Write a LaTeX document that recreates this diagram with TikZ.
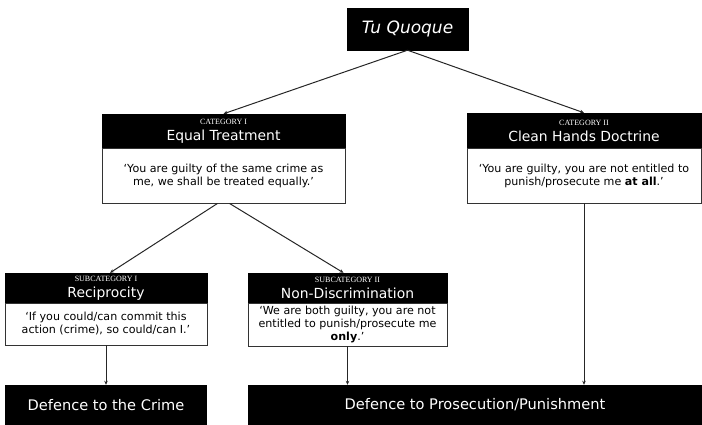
\documentclass[tikz,border=0pt]{standalone}
\usepackage{fontspec}
\setmainfont{DejaVu Sans}
\newfontfamily\capfont{Liberation Serif}
\usetikzlibrary{arrows.meta}
\newcommand{\catlbl}[1]{{\capfont\fontsize{8}{8}\selectfont #1}}

\begin{document}
\begin{tikzpicture}[x=1pt,y=1pt,
    hdr/.style={draw=black,fill=black,text=white,inner sep=0pt,align=center,
      font=\fontsize{13.9}{16}\selectfont},
    bdy/.style={draw=black!80,line width=0.9pt,fill=white,inner sep=0pt,align=center,
      font=\fontsize{11.1}{13}\selectfont},
    fin/.style={fill=black,text=white,inner sep=0pt,minimum height=40pt,
      font=\fontsize{14.6}{16}\selectfont},
    arr/.style={-{Stealth[length=4pt,width=3.5pt]},line width=1pt,draw=black!85}]
\useasboundingbox (0,0) rectangle (702,425);
% top
\node[hdr,minimum width=121pt,minimum height=42pt,
  font=\fontsize{17}{19}\selectfont\itshape] (tq) at (407.5,396) {Tu Quoque};
% categories
\node[hdr,minimum width=243pt,minimum height=34pt] (et) at (223.5,294)
  {\catlbl{CATEGORY I}\\Equal Treatment};
\node[bdy,minimum width=243pt,minimum height=55pt] (etb) at (223.5,249.5)
  {‘You are guilty of the same crime as\\me, we shall be treated equally.’};
\node[hdr,minimum width=234pt,minimum height=35pt] (ch) at (584,294.5)
  {\catlbl{CATEGORY II}\\Clean Hands Doctrine};
\node[bdy,minimum width=234pt,minimum height=55pt] (chb) at (584,249.5)
  {‘You are guilty, you are not entitled to\\punish/prosecute me \textbf{at all}.’};
% subcategories
\node[hdr,minimum width=202pt,minimum height=30pt] (rec) at (106,137)
  {\catlbl{SUBCATEGORY I}\\Reciprocity};
\node[bdy,minimum width=202pt,minimum height=42pt] (recb) at (106,101)
  {‘If you could/can commit this\\action (crime), so could/can I.’};
\node[hdr,minimum width=199pt,minimum height=30pt] (nd) at (347.5,137)
  {\catlbl{SUBCATEGORY II}\\Non-Discrimination};
\node[bdy,minimum width=199pt,minimum height=43pt] (ndb) at (347.5,100.5)
  {‘We are both guilty, you are not\\entitled to punish/prosecute me\\\textbf{only}.’};
% outcomes
\node[fin,minimum width=202pt] (dc) at (106,20) {Defence to the Crime};
\node[fin,minimum width=454pt] (dp) at (475,20) {Defence to Prosecution/Punishment};
% connectors
\draw[arr] (tq.south) -- (et.north);
\draw[arr] (tq.south) -- (ch.north);
\draw[arr] ([xshift=-6pt]etb.south) -- ([xshift=4pt]rec.north);
\draw[arr] ([xshift=6pt]etb.south) -- ([xshift=-4pt]nd.north);
\draw[arr] (recb.south) -- (dc.north);
\draw[arr] (ndb.south) -- (ndb.south |- dp.north);
\draw[arr] (chb.south) -- (chb.south |- dp.north);
\end{tikzpicture}
\end{document}
